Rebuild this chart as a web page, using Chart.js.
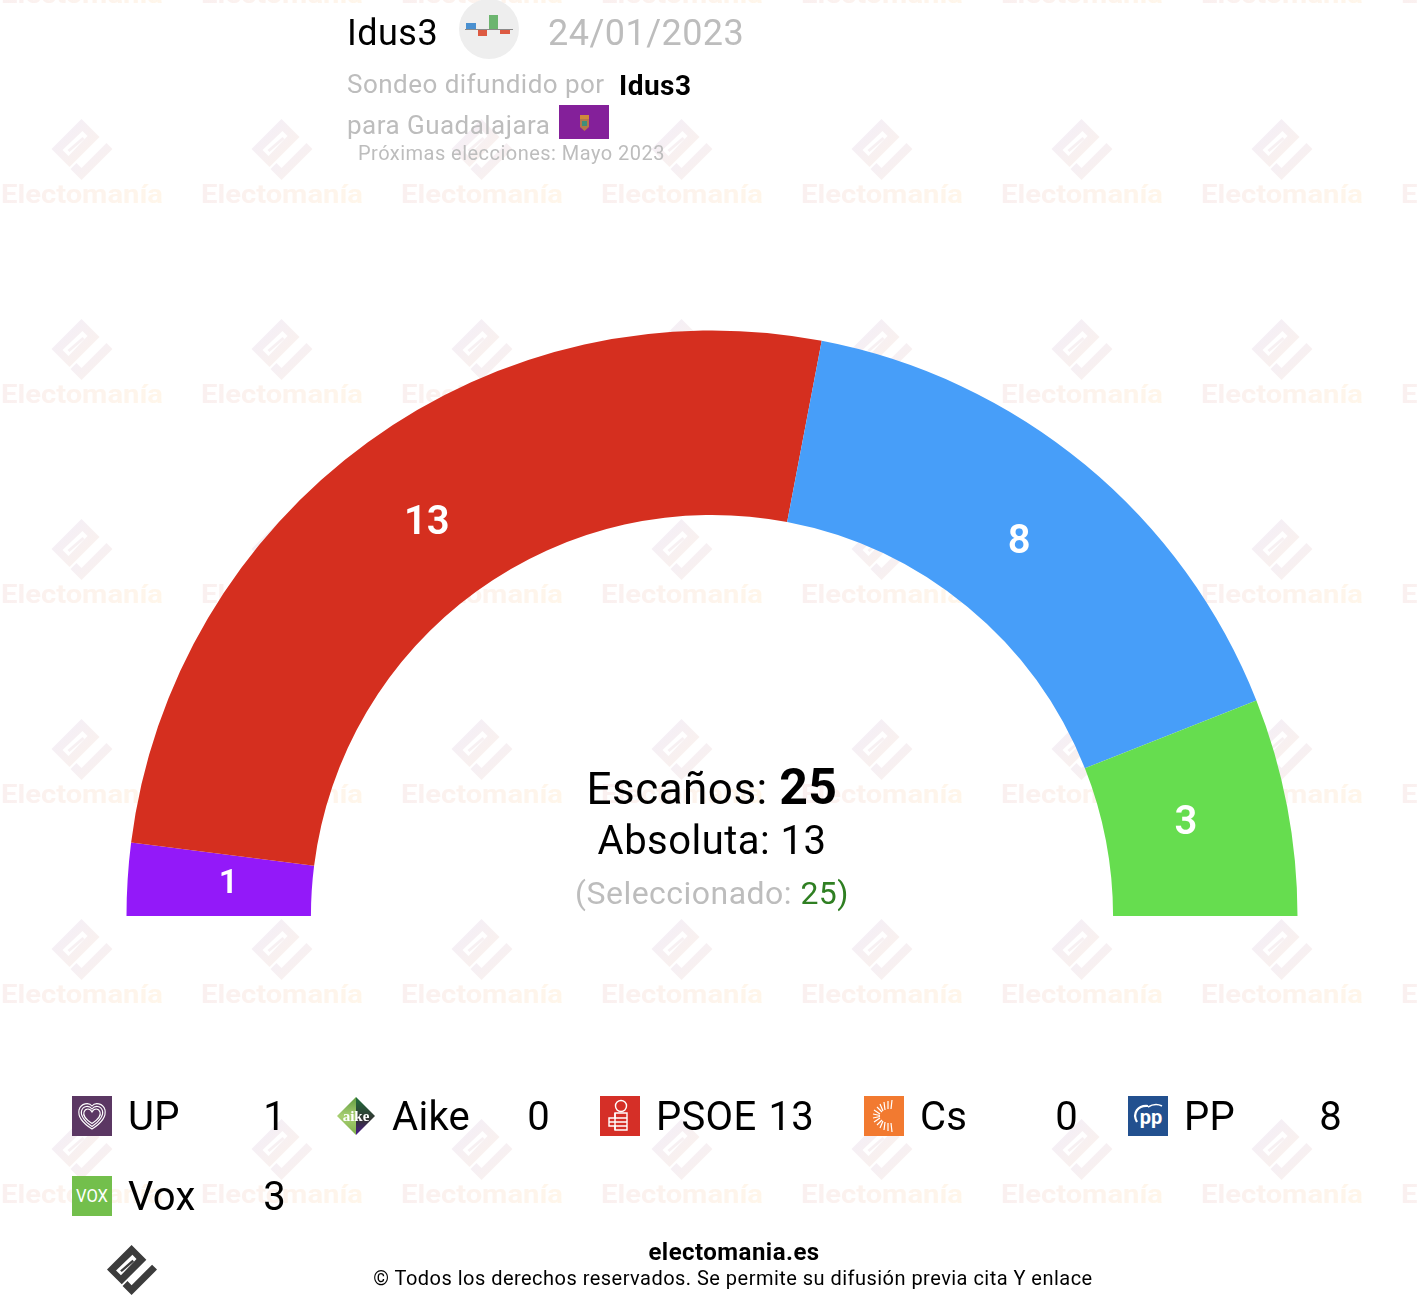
<!DOCTYPE html>
<html lang="es">
<head>
<meta charset="utf-8">
<title>Idus3 - Guadalajara</title>
<script src="https://cdn.jsdelivr.net/npm/chart.js@4"></script>
<style>
    html, body { margin: 0; padding: 0; background: #fff; }
    body { position: relative; width: 1418px; height: 1304px; overflow: hidden; font-family: Roboto, sans-serif; color: #000; }
    #marks, #seatChart { position: absolute; left: 0; top: 0; }
    .txt { position: absolute; white-space: nowrap; line-height: 1; letter-spacing: .47px; }
    .grey { color: #bdbdbd; }
    .center { left: 712px; transform: translateX(-50%); }
    .icon { position: absolute; width: 40px; height: 40px; }
    .party { position: absolute; font-size: 40px; line-height: 1; white-space: nowrap; letter-spacing: .3px; }
    .seats { position: absolute; font-size: 40px; line-height: 1; text-align: right; width: 60px; letter-spacing: .3px; }
</style>
</head>
<body>
<svg id="marks" width="1418" height="1304" xmlns="http://www.w3.org/2000/svg">
    <defs>
        <linearGradient id="wmLogo" x1="0" y1="0" x2="1" y2="1">
            <stop offset="0" stop-color="#f2eefa"/>
            <stop offset="1" stop-color="#fcf2ea"/>
        </linearGradient>
        <linearGradient id="wmText" x1="0" y1="0" x2="1" y2="0">
            <stop offset="0" stop-color="#faf0f0"/>
            <stop offset="1" stop-color="#fff6ea"/>
        </linearGradient>
        <symbol id="logo" viewBox="0 0 61 61">
            <path fill-rule="evenodd" d="M30 0 L48 18 L18 48 L0 30 Z M31 12 L11 31 L17 37 L36 17 Z"/>
            <path d="M55 24 L61 30 L30 61 L19 50 L25 44 L30 49 Z"/>
            <path d="M31 18 L33 20 L18 33 L16 31 Z"/>
        </symbol>
        <pattern id="wmTile" x="0" y="10" width="200" height="200" patternUnits="userSpaceOnUse">
            <use href="#logo" x="51.5" y="109" width="61" height="61" fill="url(#wmLogo)"/>
            <text x="1" y="193" font-family="Roboto" font-weight="700" font-size="26" textLength="162" lengthAdjust="spacingAndGlyphs" fill="url(#wmText)">Electomanía</text>
        </pattern>
    </defs>
    <rect width="1418" height="1304" fill="url(#wmTile)"/>
    <use href="#logo" x="107" y="1245" width="50" height="50" fill="#3c3c3c"/>

    <!-- header icon -->
    <circle cx="489" cy="29" r="30" fill="#eeeeee"/>
    <rect x="466" y="23" width="10" height="7" fill="#4a90d0"/>
    <rect x="478" y="30" width="9" height="6" fill="#dd5a42"/>
    <rect x="489" y="15" width="9" height="15" fill="#6cb56f"/>
    <rect x="500" y="30" width="10" height="4" fill="#dd5a42"/>
    <rect x="465" y="29" width="48" height="1" fill="#8a8a8a"/>

    <!-- Guadalajara flag -->
    <rect x="559" y="105" width="50" height="34" fill="#84209a"/>
    <rect x="580" y="115" width="9" height="4" fill="#d08a3a"/>
    <path d="M580 119 H589 V127 L584.5 131 L580 127 Z" fill="#b5774a"/>
    <rect x="582" y="121" width="5" height="5" fill="#3f8f7a"/>
</svg>

<canvas id="seatChart" width="1418" height="1304"></canvas>

<div class="txt" style="left:347px;top:15px;font-size:36px;">Idus3</div>
<div class="txt grey" style="left:548px;top:15px;font-size:36px;">24/01/2023</div>
<div class="txt grey" style="left:347px;top:71px;font-size:26px;">Sondeo difundido por</div>
<div class="txt" style="left:619px;top:72px;font-size:28px;font-weight:700;">Idus3</div>
<div class="txt grey" style="left:347px;top:112px;font-size:26px;">para Guadalajara</div>
<div class="txt grey" style="left:358px;top:143px;font-size:20px;">Próximas elecciones: Mayo 2023</div>

<div class="txt center" style="top:762px;font-size:44px;">Escaños: <b style="font-size:50px;" id="totalSeats"></b></div>
<div class="txt center" style="top:821px;font-size:40px;">Absoluta: <span id="majority"></span></div>
<div class="txt center grey" style="top:877px;font-size:32px;">(Seleccionado: <span style="color:#2f7f22;"><span id="selected"></span>)</span></div>

<div id="legend"></div>

<div class="txt" style="left:734px;top:1240px;font-size:24px;font-weight:700;transform:translateX(-50%);">electomania.es</div>
<div class="txt" style="left:733px;top:1268px;font-size:20px;transform:translateX(-50%);">© Todos los derechos reservados. Se permite su difusión previa cita Y enlace</div>

<script>
const parties = ['UP', 'Aike', 'PSOE', 'Cs', 'PP', 'Vox'];
const seats = [1, 0, 13, 0, 8, 3];
const partyColors = ['#9319f9', '#3f7f3a', '#d52f1f', '#f27a30', '#479ef9', '#66dd4f'];
const majority = 13;

// small party logos, only rough copies of the originals
const partyIcons = {
    UP: '<rect width="40" height="40" fill="#5b3763"/><g fill="none" stroke="#fff" stroke-width="1.1"><path d="M20 33 C9 26 6 19 7 14 C9 7 17 6 20 10 C23 6 31 7 33 14 C34 19 31 26 20 33 Z"/><path d="M20 30.500 C11 24.500 8.500 18.500 9.500 15 C11 9.500 17 9 20 13 C23 9 29 9.500 30.500 15 C31.500 18.500 29 24.500 20 30.500 Z"/><path d="M20 27.500 C13 23 11 18.500 12 16 C13.500 12 18 12 20 16 C22 12 26.500 12 28 16 C29 18.500 27 23 20 27.500 Z"/></g>',
    Aike: '<defs><linearGradient id="aikeA" x1="0" y1="0" x2="0" y2="1"><stop offset="0" stop-color="#5f9a3f"/><stop offset=".5" stop-color="#a8cf72"/><stop offset="1" stop-color="#7fb04a"/></linearGradient><linearGradient id="aikeB" x1="0" y1="0" x2="0" y2="1"><stop offset="0" stop-color="#1f6f3c"/><stop offset=".6" stop-color="#333"/><stop offset="1" stop-color="#4b1a8c"/></linearGradient></defs><path d="M20 1 L1 20 L20 39 Z" fill="url(#aikeA)"/><path d="M20 1 L39 20 L20 39 Z" fill="url(#aikeB)"/><text x="20" y="24.500" text-anchor="middle" font-family="Liberation Serif" font-weight="700" font-size="15" fill="#fff">aike</text>',
    PSOE: '<rect width="40" height="40" fill="#d52f27"/><g fill="none" stroke="#fff" stroke-width="1.4"><circle cx="21" cy="10" r="5.500"/><path d="M15 17 H27 V34 H15 V30 H9 V22 H15 Z"/><path d="M15 17 V34 M15 22 H27 M15 26 H27 M15 30 H27 M9 26 H20"/></g>',
    Cs: '<rect width="40" height="40" fill="#f27a30"/><g stroke="#fff" stroke-width="1.2"><path d="M28 4 L27 13 M24 5 L24 13 M20 6 L21 14 M16 8 L19 15 M13 11 L18 16 M10 14 L16 18 M9 18 L16 19.500 M9 22 L16 20.500 M10 26 L16 22 M13 29 L18 24 M16 32 L19 25 M20 34 L21 26 M24 35 L24 27 M28 36 L27 27"/></g>',
    PP: '<rect width="40" height="40" fill="#22508f"/><path d="M9 26 C4 17 10 9 20 10" fill="none" stroke="#fff" stroke-width="2.200"/><text x="23" y="28" text-anchor="middle" font-family="Roboto" font-weight="700" font-size="20" fill="#fff">pp</text><path d="M20 11 C25 8 30 8 34 10" fill="none" stroke="#fff" stroke-width="1.600"/>',
    Vox: '<rect width="40" height="40" fill="#73bf4c"/><text x="20" y="26" text-anchor="middle" font-family="Roboto" font-weight="400" font-size="19" textLength="32" lengthAdjust="spacingAndGlyphs" fill="#fff">VOX</text>'
};

document.getElementById('totalSeats').textContent = seats.reduce((a, b) => a + b, 0);
document.getElementById('selected').textContent = seats.reduce((a, b) => a + b, 0);
document.getElementById('majority').textContent = majority;

// --- Legend ---
const legend = document.getElementById('legend');
parties.forEach((name, i) => {
    const left = 72 + (i % 5) * 264;
    const top = 1096 + Math.floor(i / 5) * 80;
    legend.insertAdjacentHTML('beforeend',
        `<svg class="icon" viewBox="0 0 40 40" style="left:${left}px;top:${top}px;">${partyIcons[name]}</svg>` +
        `<div class="party" style="left:${left + 56}px;top:${top + 1}px;">${name}</div>` +
        `<div class="seats" style="left:${left + 154}px;top:${top + 1}px;">${seats[i]}</div>`);
});

// --- Numbers inside the slices ---
const sliceLabels = {
    id: 'sliceLabels',
    afterDatasetsDraw(chart) {
        const { ctx } = chart;
        chart.getDatasetMeta(0).data.forEach((arc, i) => {
            if (!seats[i]) return;
            const pos = arc.tooltipPosition();
            const x = arc.x + (pos.x - arc.x) * 0.98 - 1;
            const y = arc.y + (pos.y - arc.y) * 0.98 - 1;
            ctx.save();
            ctx.fillStyle = '#fff';
            ctx.font = `600 ${seats[i] < 2 ? 34 : 40}px Roboto`;
            ctx.textAlign = 'center';
            ctx.textBaseline = 'middle';
            ctx.fillText(seats[i], x, y);
            ctx.restore();
        });
    }
};

new Chart(document.getElementById('seatChart'), {
    type: 'doughnut',
    data: {
        labels: parties,
        datasets: [{ data: seats, backgroundColor: partyColors, borderWidth: 0 }]
    },
    options: {
        responsive: false,
        animation: false,
        rotation: -90,
        circumference: 180,
        cutout: '68.5%',
        layout: { padding: { left: 126.5, right: 120.5, top: 330.5, bottom: 388 } },
        plugins: { legend: { display: false }, tooltip: { enabled: false } }
    },
    plugins: [sliceLabels]
});
</script>
</body>
</html>
